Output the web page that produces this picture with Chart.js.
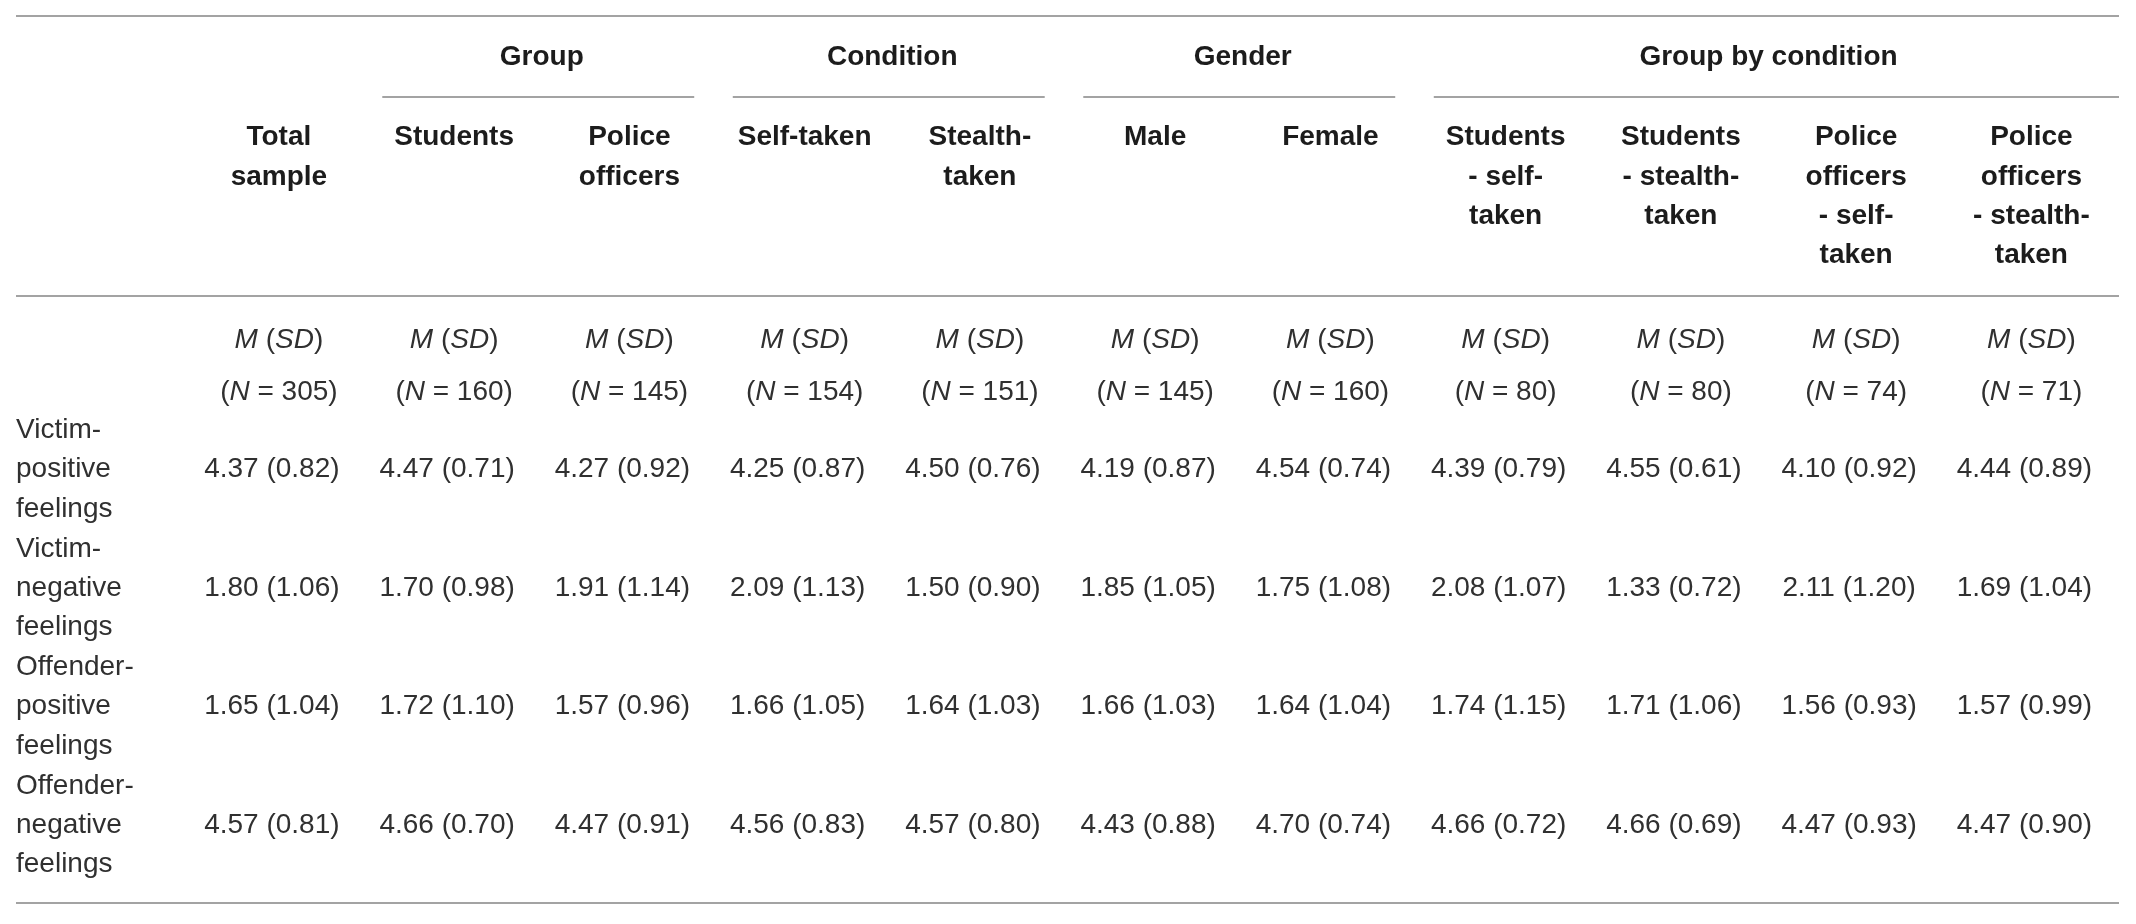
<!DOCTYPE html>
<html>
<head>
<meta charset="utf-8">
<script src="https://cdn.jsdelivr.net/npm/chart.js@4.4.1/dist/chart.umd.min.js"></script>
<style>
  html, body { margin: 0; padding: 0; background: #fff; }
  #wrap { width: 2136px; height: 924px; position: relative; }
</style>
</head>
<body>
<div id="wrap"><canvas id="myChart"></canvas></div>
<script>
// column headers, one entry per printed line
var columnHeads = [
  ['Total', 'sample'],
  ['Students'],
  ['Police', 'officers'],
  ['Self-taken'],
  ['Stealth-', 'taken'],
  ['Male'],
  ['Female'],
  ['Students', '- self-', 'taken'],
  ['Students', '- stealth-', 'taken'],
  ['Police', 'officers', '- self-', 'taken'],
  ['Police', 'officers', '- stealth-', 'taken']
];
var spanners = ['Group', 'Condition', 'Gender', 'Group by condition'];
var spanFirst = [1, 3, 5, 7];
var spanLast = [2, 4, 6, 10];
var sampleN = [305, 160, 145, 154, 151, 145, 160, 80, 80, 74, 71];

var measures = [
  ['Victim-', 'positive', 'feelings'],
  ['Victim-', 'negative', 'feelings'],
  ['Offender-', 'positive', 'feelings'],
  ['Offender-', 'negative', 'feelings']
];
var victimPosM  = [4.37, 4.47, 4.27, 4.25, 4.50, 4.19, 4.54, 4.39, 4.55, 4.10, 4.44];
var victimPosSD = [0.82, 0.71, 0.92, 0.87, 0.76, 0.87, 0.74, 0.79, 0.61, 0.92, 0.89];
var victimNegM  = [1.80, 1.70, 1.91, 2.09, 1.50, 1.85, 1.75, 2.08, 1.33, 2.11, 1.69];
var victimNegSD = [1.06, 0.98, 1.14, 1.13, 0.90, 1.05, 1.08, 1.07, 0.72, 1.20, 1.04];
var offendPosM  = [1.65, 1.72, 1.57, 1.66, 1.64, 1.66, 1.64, 1.74, 1.71, 1.56, 1.57];
var offendPosSD = [1.04, 1.10, 0.96, 1.05, 1.03, 1.03, 1.04, 1.15, 1.06, 0.93, 0.99];
var offendNegM  = [4.57, 4.66, 4.47, 4.56, 4.57, 4.43, 4.70, 4.66, 4.66, 4.47, 4.47];
var offendNegSD = [0.81, 0.70, 0.91, 0.83, 0.80, 0.88, 0.74, 0.72, 0.69, 0.93, 0.90];

var means = [victimPosM, victimNegM, offendPosM, offendNegM];
var sds = [victimPosSD, victimNegSD, offendPosSD, offendNegSD];

// row layout, in text-line units (y scale)
var LINE_SPAN = 1.05, LINE_SPANRULE = 2.06, LINE_HEAD = 3.1, LINE_HEADRULE = 7.13;
var LINE_MSD = 8.25, LINE_N = 9.58, LINE_BODY = 10.56, ROW_STEP = 3.02, LINE_END = 22.6;

var FONT = "'Liberation Sans', Arial, Helvetica, sans-serif";
var textColor = '#303030';
var headColor = '#1c1c1c';
var ruleColor = '#a3a3a3';

var datasets = means.map(function (m, i) {
  return {
    label: measures[i].join(' '),
    data: m.map(function (v, j) { return { x: j, y: LINE_BODY + 1 + ROW_STEP * i }; }),
    pointRadius: 0,
    showLine: false
  };
});

function drawMixed(ctx, parts, cx, y) {
  var total = 0;
  parts.forEach(function (p) {
    ctx.font = (p[1] ? 'italic ' : '') + '28px ' + FONT;
    total += ctx.measureText(p[0]).width;
  });
  var x = cx - total / 2;
  ctx.textAlign = 'left';
  parts.forEach(function (p) {
    ctx.font = (p[1] ? 'italic ' : '') + '28px ' + FONT;
    ctx.fillText(p[0], x, y);
    x += ctx.measureText(p[0]).width;
  });
}

var tablePlugin = {
  id: 'tableText',
  afterDatasetsDraw: function (chart) {
    var ctx = chart.ctx;
    var xs = chart.scales.x, ys = chart.scales.y;
    var area = chart.chartArea;
    ctx.save();

    // rules
    ctx.strokeStyle = ruleColor;
    ctx.lineWidth = 2;
    function hline(x1, x2, v) {
      var y = Math.round(ys.getPixelForValue(v));
      ctx.beginPath();
      ctx.moveTo(x1, y);
      ctx.lineTo(x2, y);
      ctx.stroke();
    }
    hline(area.left, area.right, 0);
    hline(area.left, area.right, LINE_HEADRULE);
    hline(area.left, area.right, LINE_END);
    spanners.forEach(function (s, k) {
      var x1 = xs.getPixelForValue(spanFirst[k] - 0.41);
      var x2 = spanLast[k] === columnHeads.length - 1 ? area.right : xs.getPixelForValue(spanLast[k] + 0.37);
      hline(x1, x2, LINE_SPANRULE);
    });

    ctx.textBaseline = 'middle';

    // spanner headings
    ctx.fillStyle = headColor;
    ctx.font = 'bold 28px ' + FONT;
    ctx.textAlign = 'center';
    spanners.forEach(function (s, k) {
      var cx = (xs.getPixelForValue(spanFirst[k]) + xs.getPixelForValue(spanLast[k])) / 2;
      ctx.fillText(s, cx, ys.getPixelForValue(LINE_SPAN));
    });

    // column headings
    columnHeads.forEach(function (lines, j) {
      lines.forEach(function (t, k) {
        ctx.fillText(t, xs.getPixelForValue(j), ys.getPixelForValue(LINE_HEAD + k));
      });
    });

    // M (SD) and N row
    ctx.fillStyle = textColor;
    sampleN.forEach(function (n, j) {
      var cx = xs.getPixelForValue(j);
      drawMixed(ctx, [['M', true], [' (', false], ['SD', true], [')', false]], cx, ys.getPixelForValue(LINE_MSD));
      drawMixed(ctx, [['(', false], ['N', true], [' = ' + n + ')', false]], cx, ys.getPixelForValue(LINE_N));
    });

    // row labels
    ctx.font = '28px ' + FONT;
    ctx.textAlign = 'left';
    measures.forEach(function (lines, i) {
      lines.forEach(function (t, k) {
        ctx.fillText(t, area.left, ys.getPixelForValue(LINE_BODY + ROW_STEP * i + k));
      });
    });

    // cell values, placed at each point of the datasets
    ctx.textAlign = 'center';
    chart.data.datasets.forEach(function (ds, i) {
      var meta = chart.getDatasetMeta(i);
      meta.data.forEach(function (pt, j) {
        var txt = means[i][j].toFixed(2) + ' (' + sds[i][j].toFixed(2) + ')';
        ctx.fillText(txt, pt.x - 7, pt.y);
      });
    });

    ctx.restore();
  }
};

var ctx = document.getElementById('myChart').getContext('2d');
var myChart = new Chart(ctx, {
  type: 'scatter',
  data: { datasets: datasets },
  options: {
    responsive: true,
    maintainAspectRatio: false,
    animation: false,
    layout: { padding: { left: 16, right: 17, top: 16, bottom: 21 } },
    plugins: { legend: { display: false }, tooltip: { enabled: false } },
    scales: {
      x: { type: 'linear', min: -1.5, max: 10.5, display: false },
      y: { type: 'linear', min: 0, max: LINE_END, reverse: true, display: false }
    }
  },
  plugins: [tablePlugin]
});
</script>
</body>
</html>
